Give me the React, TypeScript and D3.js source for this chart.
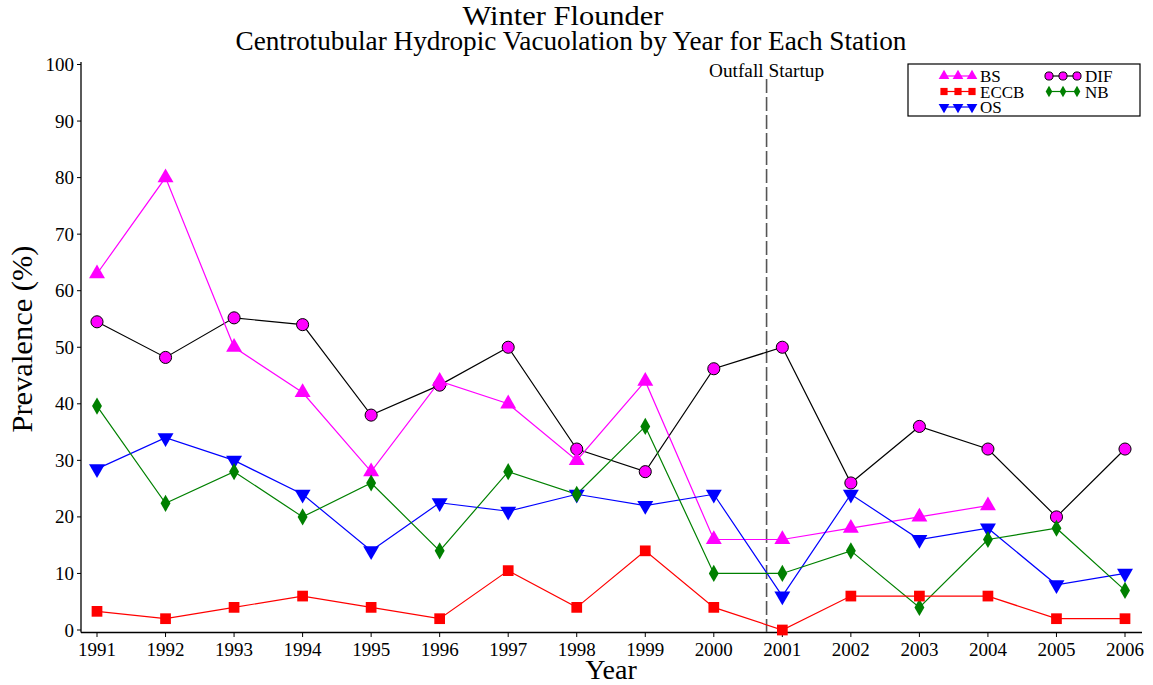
import * as d3 from 'd3'
import React, { useRef, useEffect } from 'react'

const years = [1991, 1992, 1993, 1994, 1995, 1996, 1997, 1998, 1999, 2000, 2001, 2002, 2003, 2004, 2005, 2006]
const bsValues = [63, 80, 50, 42, 28, 44, 40, 30, 44, 16, 16, 18, 20, 22, null, null]
const eccbValues = [3.3, 2, 4, 6, 4, 2, 10.5, 4, 14, 4, 0, 6, 6, 6, 2, 2]
const osValues = [28.5, 34, 30, 24, 14, 22.5, 21, 24, 22, 24, 6, 24, 16, 18, 8, 10]
const difValues = [54.5, 48.2, 55.2, 54, 38, 43.3, 50, 32, 28, 46.2, 50, 26, 36, 32, 20, 32]
const nbValues = [39.6, 22.4, 28, 20, 26, 14, 28, 24, 36, 10, 10, 14, 4, 16, 18, 7]
const yTicks = [0, 10, 20, 30, 40, 50, 60, 70, 80, 90, 100]
const outfallYear = 2000.77

type Series = { name: string, values: (number | null)[], line: string, fill: string, stroke: string, symbol: d3.SymbolType, size: number, rotate?: number }

const series: Series[] = [
  { name: 'DIF', values: difValues, line: '#000', fill: '#ff00ff', stroke: '#000', symbol: d3.symbolCircle, size: 115 },
  { name: 'BS', values: bsValues, line: '#ff00ff', fill: '#ff00ff', stroke: 'none', symbol: d3.symbolTriangle, size: 110 },
  { name: 'OS', values: osValues, line: '#0000ff', fill: '#0000ff', stroke: 'none', symbol: d3.symbolTriangle, size: 110, rotate: 180 },
  { name: 'NB', values: nbValues, line: '#008000', fill: '#008000', stroke: 'none', symbol: d3.symbolDiamond, size: 85 },
  { name: 'ECCB', values: eccbValues, line: '#ff0000', fill: '#ff0000', stroke: 'none', symbol: d3.symbolSquare, size: 115 },
]

const legendItems = [
  { name: 'BS', col: 0, row: 0 },
  { name: 'ECCB', col: 0, row: 1 },
  { name: 'OS', col: 0, row: 2 },
  { name: 'DIF', col: 1, row: 0 },
  { name: 'NB', col: 1, row: 1 },
]

export default function App() {
  const svgRef = useRef(null)
  const width = 1153
  const height = 685

  useEffect(() => {
    const svg = d3.select(svgRef.current)
    svg.selectAll('*').remove()
    const font = '"Liberation Serif", "Times New Roman", serif'

    const x = d3.scaleLinear().domain([1991, 2006]).range([97, 1125])
    const y = d3.scaleLinear().domain([0, 100]).range([630, 64.5])

    svg.append('rect').attr('width', width).attr('height', height).attr('fill', '#fff')

    // titles
    svg.append('text').text('Winter Flounder')
      .attr('x', 563).attr('y', 25).attr('text-anchor', 'middle')
      .attr('font-family', font).attr('font-size', 27).attr('fill', '#000')
      .attr('textLength', 201).attr('lengthAdjust', 'spacingAndGlyphs')
    svg.append('text').text('Centrotubular Hydropic Vacuolation by Year for Each Station')
      .attr('x', 571).attr('y', 50).attr('text-anchor', 'middle')
      .attr('font-family', font).attr('font-size', 27).attr('fill', '#000')
      .attr('textLength', 671).attr('lengthAdjust', 'spacingAndGlyphs')

    // axes
    const axisG = svg.append('g').attr('font-family', font)
    axisG.append('line').attr('x1', 81).attr('x2', 81).attr('y1', 62).attr('y2', 632.5)
      .attr('stroke', '#000').attr('stroke-width', 1.3)
    axisG.append('line').attr('x1', 81).attr('x2', 1142).attr('y1', 632.5).attr('y2', 632.5)
      .attr('stroke', '#000').attr('stroke-width', 1.3)

    yTicks.forEach(t => {
      axisG.append('line').attr('x1', 77).attr('x2', 81).attr('y1', y(t)).attr('y2', y(t)).attr('stroke', '#000')
      axisG.append('text').text(t).attr('x', 74).attr('y', y(t) + 6.5)
        .attr('text-anchor', 'end').attr('font-size', 19).attr('fill', '#000')
    })
    years.forEach(yr => {
      axisG.append('line').attr('x1', x(yr)).attr('x2', x(yr)).attr('y1', 632.5).attr('y2', 637).attr('stroke', '#000')
      axisG.append('text').text(yr).attr('x', x(yr)).attr('y', 656)
        .attr('text-anchor', 'middle').attr('font-size', 19).attr('fill', '#000')
    })

    svg.append('text').text('Year').attr('x', 611).attr('y', 679).attr('text-anchor', 'middle')
      .attr('font-family', font).attr('font-size', 28).attr('fill', '#000')
    svg.append('text').text('Prevalence (%)')
      .attr('transform', 'translate(32,339) rotate(-90)').attr('text-anchor', 'middle')
      .attr('font-family', font).attr('font-size', 30).attr('fill', '#000')
      .attr('textLength', 187).attr('lengthAdjust', 'spacingAndGlyphs')

    // outfall line
    svg.append('line').attr('x1', x(outfallYear)).attr('x2', x(outfallYear)).attr('y1', 79).attr('y2', 632)
      .attr('stroke', '#555').attr('stroke-width', 1.6).attr('stroke-dasharray', '14,4')
    svg.append('text').text('Outfall Startup').attr('x', x(outfallYear)).attr('y', 77)
      .attr('text-anchor', 'middle').attr('font-family', font).attr('font-size', 19).attr('fill', '#000')
      .attr('textLength', 115).attr('lengthAdjust', 'spacingAndGlyphs')

    // series
    const lineGen = d3.line<number | null>()
      .defined(d => d !== null)
      .x((_, i) => x(years[i]))
      .y(d => y(d as number))

    series.forEach(s => {
      svg.append('path').datum(s.values).attr('d', lineGen)
        .attr('fill', 'none').attr('stroke', s.line).attr('stroke-width', 1.2)
    })
    series.forEach(s => {
      const sym = d3.symbol().type(s.symbol).size(s.size)
      svg.append('g').selectAll('path')
        .data(s.values.map((v, i) => ({ v, yr: years[i] })).filter(d => d.v !== null))
        .join('path')
        .attr('d', sym)
        .attr('transform', d => `translate(${x(d.yr)},${y(d.v as number)}) rotate(${s.rotate || 0})`)
        .attr('fill', s.fill).attr('stroke', s.stroke).attr('stroke-width', 1)
    })

    // legend
    const lg = svg.append('g')
    lg.append('rect').attr('x', 908).attr('y', 64).attr('width', 232).attr('height', 52)
      .attr('fill', '#fff').attr('stroke', '#000').attr('stroke-width', 1.2)
    legendItems.forEach(item => {
      const s = series.find(d => d.name === item.name)!
      const x0 = item.col === 0 ? 944 : 1049
      const yy = 76 + item.row * 15.5
      lg.append('line').attr('x1', x0).attr('x2', x0 + 28).attr('y1', yy).attr('y2', yy)
        .attr('stroke', s.line).attr('stroke-width', 1.2)
      const sym = d3.symbol().type(s.symbol).size(s.size * 0.45)
      ;[0, 14, 28].forEach(dx => {
        lg.append('path').attr('d', sym)
          .attr('transform', `translate(${x0 + dx},${yy}) rotate(${s.rotate || 0})`)
          .attr('fill', s.fill).attr('stroke', s.stroke).attr('stroke-width', 1)
      })
      lg.append('text').text(s.name).attr('x', x0 + 36).attr('y', yy + 6)
        .attr('font-family', font).attr('font-size', 17).attr('fill', '#000')
    })
  }, [])

  return (
    <svg ref={svgRef} width={width} height={height} style={{ position: 'absolute', left: 0, top: 0 }} />
  )
}
